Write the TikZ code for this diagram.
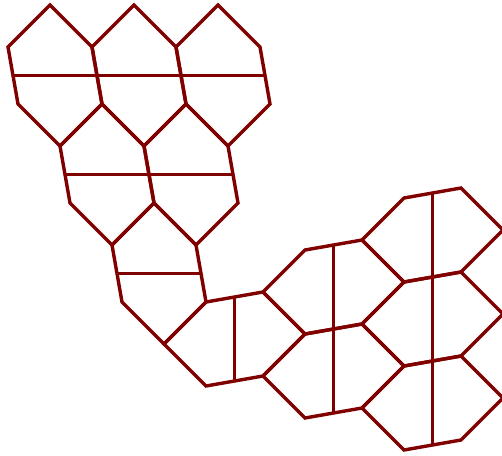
\documentclass[tikz,border=0pt]{standalone}
\definecolor{maroonline}{RGB}{128,0,0}
\tikzset{
  tileedge/.style={draw=maroonline, line width=3.4pt, line join=miter},
  tilesplit/.style={draw=maroonline, line width=2.4pt},
}
\begin{document}
\begin{tikzpicture}[x=1pt,y=-1pt]
\useasboundingbox (0,0) rectangle (502,455);
% upright hexagons, each split by a horizontal line
\foreach \tx/\ty in {50/5,134/5,218/5,102/104,186/104,154/203}{
  \begin{scope}[shift={(\tx,\ty)}]
    \draw[tilesplit] (-37,70.5) -- (47,70.5);
    \draw[tileedge] (0,0) -- (42,42) -- (52,99) -- (10,141) -- (-32,99) -- (-42,42) -- cycle;
  \end{scope}
}
% turned hexagons, each split by a vertical line
\foreach \tx/\ty in {164/344,263/292,263/376,362/240,362/324,362/408}{
  \begin{scope}[shift={(\tx,\ty)}]
    \draw[tilesplit] (70.5,-47) -- (70.5,37);
    \draw[tileedge] (0,0) -- (42,-42) -- (99,-52) -- (141,-10) -- (99,32) -- (42,42) -- cycle;
  \end{scope}
}
\end{tikzpicture}
\end{document}
